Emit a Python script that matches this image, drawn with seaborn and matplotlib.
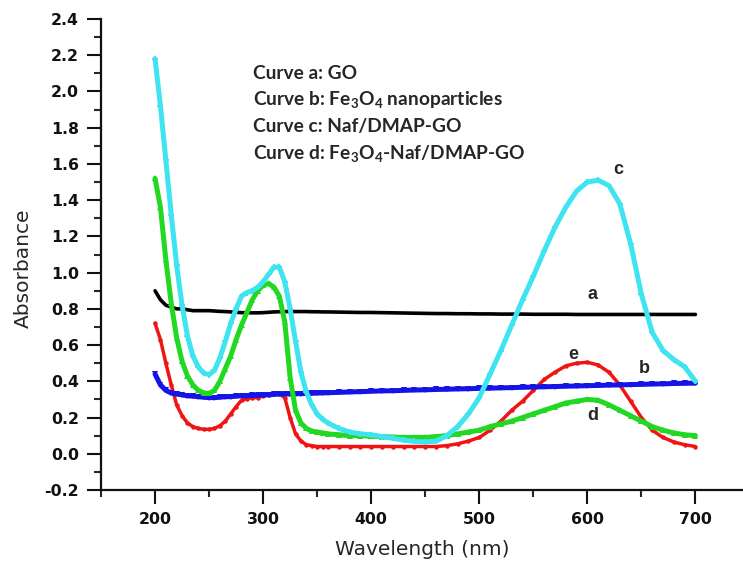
import numpy as np
import pandas as pd
import matplotlib
matplotlib.use("Agg")
import matplotlib.pyplot as plt
import seaborn as sns
from matplotlib.ticker import MultipleLocator

# ---------------- data ----------------
wavelength = [200, 205, 210, 215, 220, 225, 230, 235, 240, 245, 250, 255, 260, 265,
              270, 275, 280, 285, 290, 295, 300, 305, 310, 315, 320, 325, 330, 335,
              340, 345, 350, 355, 360,
              370, 380, 390, 400, 410, 420, 430, 440, 450, 460, 470, 480, 490, 500,
              510, 520, 530, 540, 550, 560, 570, 580, 590, 600, 610, 620, 630, 640,
              650, 660, 670, 680, 690, 700]

curve_a = [0.90, 0.85, 0.82, 0.81, 0.80, 0.80, 0.795, 0.79, 0.79, 0.79, 0.79, 0.788, 0.786, 0.785,
           0.783, 0.781, 0.779, 0.778, 0.778, 0.778, 0.779, 0.781, 0.783, 0.784, 0.785, 0.785, 0.785, 0.785,
           0.785, 0.784, 0.784, 0.783, 0.783,
           0.782, 0.781, 0.780, 0.780, 0.779, 0.778, 0.777, 0.776, 0.775, 0.774, 0.774, 0.773, 0.773, 0.772,
           0.772, 0.771, 0.771, 0.771, 0.770, 0.770, 0.770, 0.770, 0.769, 0.769, 0.769, 0.769, 0.769, 0.769,
           0.769, 0.769, 0.769, 0.769, 0.769, 0.769]

curve_b = [0.44, 0.38, 0.35, 0.335, 0.33, 0.325, 0.32, 0.318, 0.315, 0.312, 0.31, 0.31, 0.312, 0.315,
           0.315, 0.318, 0.32, 0.32, 0.322, 0.322, 0.325, 0.325, 0.328, 0.33, 0.33, 0.33, 0.331, 0.332,
           0.333, 0.334, 0.335, 0.336, 0.337,
           0.339, 0.341, 0.343, 0.345, 0.347, 0.348, 0.350, 0.352, 0.353, 0.355, 0.356, 0.358, 0.359, 0.361,
           0.362, 0.364, 0.365, 0.367, 0.368, 0.370, 0.371, 0.373, 0.374, 0.376, 0.377, 0.379, 0.380, 0.382,
           0.383, 0.385, 0.386, 0.388, 0.389, 0.39]

curve_c = [2.18, 1.92, 1.62, 1.32, 1.04, 0.82, 0.65, 0.54, 0.48, 0.445, 0.437, 0.46, 0.53, 0.62,
           0.72, 0.80, 0.87, 0.89, 0.90, 0.92, 0.95, 0.99, 1.03, 1.03, 0.95, 0.80, 0.62, 0.45,
           0.34, 0.27, 0.22, 0.19, 0.17,
           0.14, 0.12, 0.11, 0.105, 0.095, 0.085, 0.075, 0.068, 0.065, 0.07, 0.10, 0.15, 0.22, 0.31,
           0.44, 0.57, 0.71, 0.85, 0.98, 1.12, 1.25, 1.36, 1.45, 1.50, 1.51, 1.48, 1.38, 1.16,
           0.88, 0.67, 0.57, 0.52, 0.48, 0.40]

curve_d = [1.52, 1.36, 1.07, 0.83, 0.64, 0.51, 0.43, 0.38, 0.35, 0.336, 0.333, 0.35, 0.40, 0.47,
           0.54, 0.63, 0.71, 0.78, 0.85, 0.90, 0.93, 0.94, 0.92, 0.87, 0.73, 0.42, 0.24, 0.17,
           0.14, 0.125, 0.12, 0.115, 0.11,
           0.105, 0.10, 0.10, 0.097, 0.095, 0.092, 0.09, 0.09, 0.09, 0.095, 0.10, 0.11, 0.12, 0.13,
           0.15, 0.165, 0.18, 0.20, 0.22, 0.24, 0.26, 0.28, 0.29, 0.30, 0.295, 0.27, 0.24, 0.21,
           0.18, 0.15, 0.13, 0.115, 0.105, 0.10]

curve_e = [0.72, 0.63, 0.50, 0.38, 0.27, 0.21, 0.17, 0.15, 0.14, 0.135, 0.135, 0.14, 0.155, 0.18,
           0.22, 0.26, 0.295, 0.305, 0.31, 0.31, 0.32, 0.325, 0.33, 0.33, 0.31, 0.20, 0.11, 0.07,
           0.05, 0.045, 0.04, 0.04, 0.04,
           0.04, 0.04, 0.04, 0.04, 0.04, 0.04, 0.04, 0.04, 0.04, 0.04, 0.045, 0.055, 0.07, 0.09,
           0.13, 0.18, 0.24, 0.29, 0.35, 0.41, 0.45, 0.485, 0.50, 0.505, 0.49, 0.45, 0.38, 0.29,
           0.20, 0.13, 0.09, 0.065, 0.05, 0.04]

curve_letters = ["a", "b", "c", "d", "e"]
letter_x = [605, 653, 629, 605, 587]
letter_y = [0.88, 0.47, 1.57, 0.21, 0.55]

legend_lines = ["Curve a: GO",
                "Curve b: Fe$\\mathregular{_3}$O$\\mathregular{_4}$ nanoparticles",
                "Curve c: Naf/DMAP-GO",
                "Curve d: Fe$\\mathregular{_3}$O$\\mathregular{_4}$-Naf/DMAP-GO"]

x_ticks = [200, 300, 400, 500, 600, 700]
y_ticks = [-0.2, 0.0, 0.2, 0.4, 0.6, 0.8, 1.0, 1.2, 1.4, 1.6, 1.8, 2.0, 2.2, 2.4]

# ---------------- styling ----------------
sns.set_style("ticks")
plt.rcParams["font.family"] = ["DejaVu Sans"]
plt.rcParams["mathtext.default"] = "regular"

fig = plt.figure(figsize=(7.43, 5.65), dpi=100)
ax = fig.add_axes([101 / 743, 75 / 565, 1 - 101 / 743, 471 / 565])

df = pd.DataFrame({"wl": wavelength, "a": curve_a, "b": curve_b,
                   "c": curve_c, "d": curve_d, "e": curve_e})

styles = {
    "a": dict(color="#000000", marker=None, lw=2.6, ms=0),
    "e": dict(color="#f01414", marker="o", lw=2.5, ms=3.2),
    "b": dict(color="#1414e6", marker="v", lw=3.6, ms=4.5),
    "d": dict(color="#22d822", marker="^", lw=3.6, ms=5.0),
    "c": dict(color="#3ee4f0", marker="P", lw=3.6, ms=5.0),
}
for key in ["a", "e", "b", "d", "c"]:
    s = styles[key]
    sns.lineplot(data=df, x="wl", y=key, ax=ax, color=s["color"], linewidth=s["lw"],
                 marker=s["marker"], markersize=s["ms"], markeredgewidth=0,
                 sort=False, legend=False)

ax.set_xlim(150, 744)
ax.set_ylim(-0.2, 2.4)
ax.set_xticks(x_ticks)
ax.set_yticks(y_ticks)
ax.set_yticklabels([f"{v:.1f}" for v in y_ticks])
ax.xaxis.set_minor_locator(MultipleLocator(50))
ax.yaxis.set_minor_locator(MultipleLocator(0.1))
ax.tick_params(axis="both", which="major", direction="out", length=10, width=1.5,
               labelsize=11.3, pad=6, colors="#111111")
ax.tick_params(axis="both", which="minor", direction="out", length=5, width=1.5)
for lbl in ax.get_xticklabels() + ax.get_yticklabels():
    lbl.set_fontweight("bold")
for sp in ["top", "right"]:
    ax.spines[sp].set_visible(False)
for sp in ["left", "bottom"]:
    ax.spines[sp].set_linewidth(1.6)
    ax.spines[sp].set_color("#111111")

ax.set_xlabel("Wavelength (nm)", fontsize=14.5, labelpad=9)
ax.set_ylabel("Absorbance", fontsize=14.5)
ax.yaxis.set_label_coords(-0.106, 0.471)

for ltr, lx, ly in zip(curve_letters, letter_x, letter_y):
    ax.text(lx, ly, ltr, fontsize=13, fontweight="bold", ha="center", va="center",
            family=["Liberation Sans", "DejaVu Sans"])

legend_y = [2.098, 1.955, 1.805, 1.657]
for txt, ty in zip(legend_lines, legend_y):
    ax.text(291, ty, txt, fontsize=13.8, fontweight="bold", ha="left", va="center",
            family=["Lato", "DejaVu Sans"])

fig.savefig("out.png", dpi=100)
